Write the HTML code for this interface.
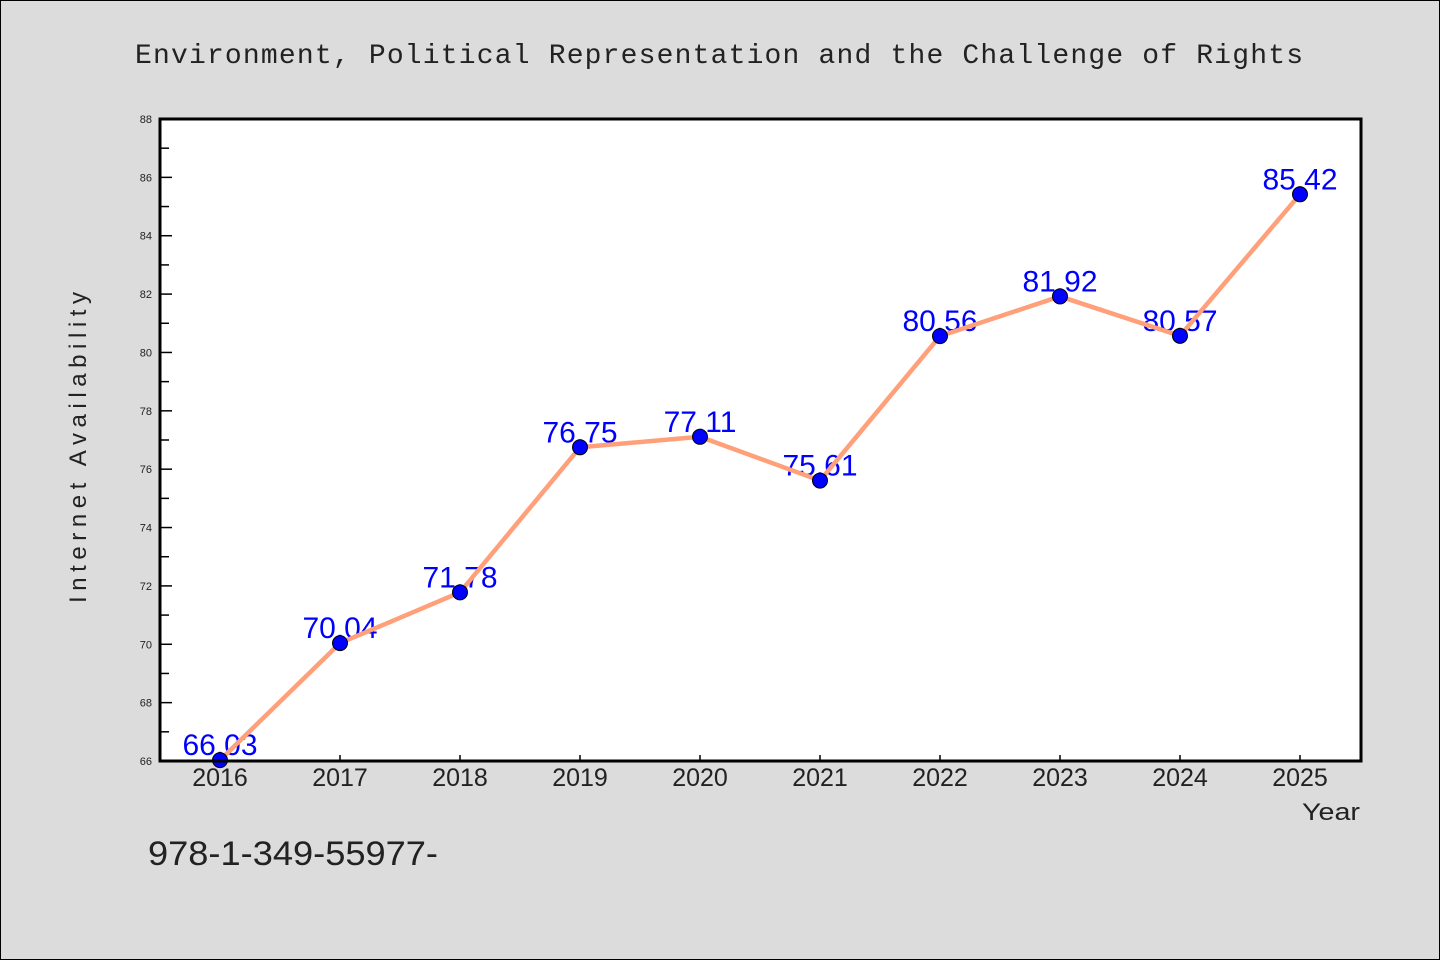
<!DOCTYPE html>
<html><head><meta charset="utf-8"><style>
body{margin:0;background:#dcdcdc;}
svg{display:block;}
</style></head><body>
<svg id="chart" width="1440" height="960" xmlns="http://www.w3.org/2000/svg">
<rect x="0.5" y="0.5" width="1439" height="959" fill="#dcdcdc" stroke="#000"/>
<text x="135" y="63" textLength="1168" lengthAdjust="spacing" font-family="'Liberation Mono',monospace" font-size="28" fill="#222">Environment, Political Representation and the Challenge of Rights</text>
<rect x="160" y="119" width="1201" height="642" fill="#fff"/>
<g id="axes"></g>
<g id="labels"></g>
<g id="series"></g>
<rect x="160" y="119" width="1201" height="642" fill="none" stroke="#000" stroke-width="3"/>
<text x="86" y="603" textLength="311" lengthAdjust="spacing" transform="rotate(-90 86 603)" font-family="'Liberation Sans',sans-serif" font-size="24" fill="#222">Internet Availability</text>
<text x="1302" y="820" textLength="58" lengthAdjust="spacingAndGlyphs" font-family="'Liberation Sans',sans-serif" font-size="24" fill="#222">Year</text>
<text x="148" y="865" textLength="290" lengthAdjust="spacingAndGlyphs" font-family="'Liberation Sans',sans-serif" font-size="34" fill="#222">978-1-349-55977-</text>
</svg>
<script>
const years=["2016","2017","2018","2019","2020","2021","2022","2023","2024","2025"];
const values=[66.03,70.04,71.78,76.75,77.11,75.61,80.56,81.92,80.57,85.42];
const valueLabels=["66.03","70.04","71.78","76.75","77.11","75.61","80.56","81.92","80.57","85.42"];
const yTicks=[66,68,70,72,74,76,78,80,82,84,86,88];
const NS="http://www.w3.org/2000/svg";
const L=160,R=1361,T=119,B=761,yMin=66,yMax=88;
const xs=i=>220+i*(1300-220)/(years.length-1);
const ys=v=>B-(v-yMin)/(yMax-yMin)*(B-T);
function mk(tag,attrs,parent){const e=document.createElementNS(NS,tag);for(const k in attrs)e.setAttribute(k,attrs[k]);parent.appendChild(e);return e;}
const axes=document.getElementById('axes'),labels=document.getElementById('labels'),series=document.getElementById('series');
yTicks.forEach((v,i)=>{
  const y=ys(v);
  const t=mk('line',{x1:L,x2:L+12,y1:y,y2:y,stroke:'#000','stroke-width':1.5},axes);
  
  
  const tx=mk('text',{x:L-8,y:y+4,'text-anchor':'end','font-family':"'Liberation Sans',sans-serif",'font-size':11,fill:'#222'},axes);
  tx.textContent=v;
  
  
  if(i<yTicks.length-1){
    const ym=ys(v+1);
    const m=mk('line',{x1:L,x2:L+9,y1:ym,y2:ym,stroke:'#000','stroke-width':1.5},axes);
    
    
  }
});
years.forEach((yr,i)=>{
  const x=xs(i);
  const t=mk('line',{x1:x,x2:x,y1:B,y2:B-6,stroke:'#000','stroke-width':1.5},axes);
  
  
  const tx=mk('text',{x:x,y:B+25,'text-anchor':'middle','font-family':"'Liberation Sans',sans-serif",'font-size':25,fill:'#222'},axes);
  tx.textContent=yr;
  
  
});
values.forEach((v,i)=>{
  const tx=mk('text',{x:xs(i),y:ys(v)-5,'text-anchor':'middle','font-family':"'Liberation Sans',sans-serif",'font-size':30,fill:'#0000ff'},labels);
  tx.textContent=valueLabels[i];
  
  
});
const pl=mk('polyline',{points:values.map((v,i)=>xs(i)+','+ys(v)).join(' '),fill:'none',stroke:'#ffa07a','stroke-width':4.5,'stroke-linejoin':'round'},series);


values.forEach((v,i)=>{
  const c=mk('circle',{cx:xs(i),cy:ys(v),r:7.5,fill:'#0000ff',stroke:'#000','stroke-width':1},series);
  
  
});
</script>
</body></html>
